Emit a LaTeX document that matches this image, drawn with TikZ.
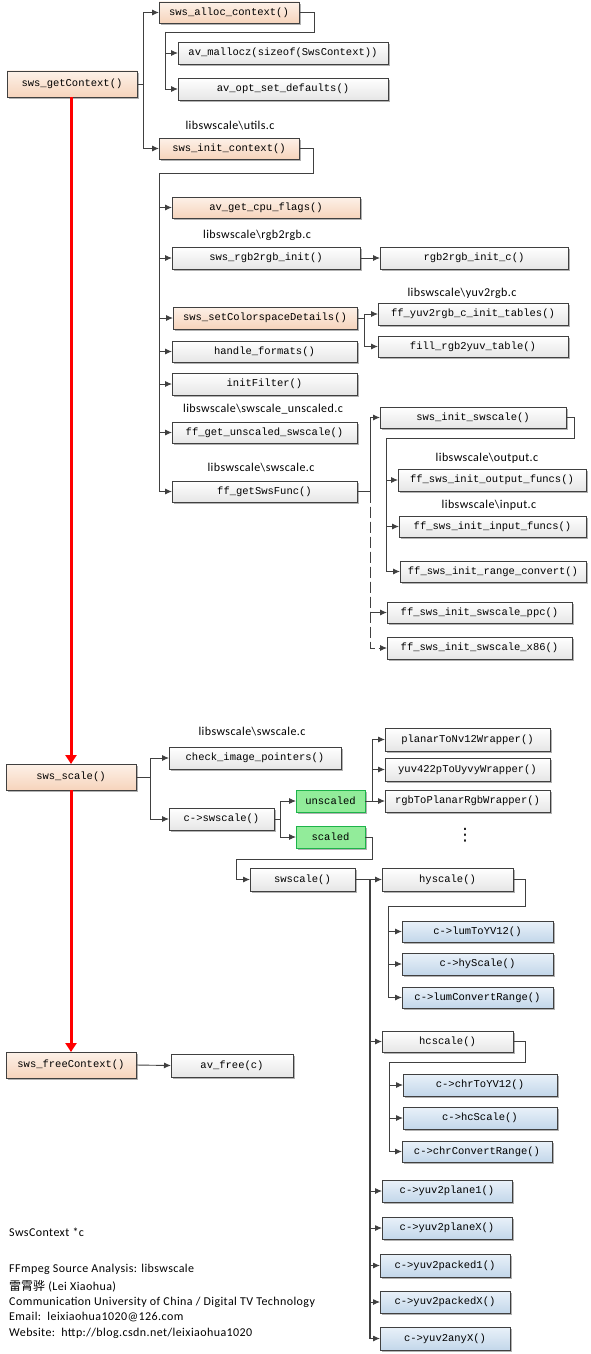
\documentclass[tikz,border=0pt]{standalone}
\usepackage{fontspec}
\setmainfont{Carlito}
\setmonofont{Liberation Mono}
\newfontfamily\cjk{Noto Sans CJK SC}
\newfontfamily\symfont{DejaVu Sans}
\newfontfamily\lblfont[LetterSpace=3.5]{Carlito}
\usetikzlibrary{arrows.meta,shadows,calc}
\definecolor{peachT}{HTML}{FDF1E8}
\definecolor{peachB}{HTML}{F6D4BC}
\definecolor{greyT}{HTML}{FFFFFF}
\definecolor{greyB}{HTML}{E6E6E6}
\definecolor{blueT}{HTML}{E9F1F9}
\definecolor{blueB}{HTML}{C3D7EA}
\definecolor{greenF}{HTML}{92EC9A}
\definecolor{greenD}{HTML}{1DB34A}
\definecolor{lineC}{HTML}{404040}
\tikzset{
 fbox/.style={draw=lineC, line width=0.9pt, inner sep=0pt, outer sep=0pt,
   font=\ttfamily\fontsize{10.5}{12}\selectfont,
   general shadow={fill=black!30, shadow xshift=2pt, shadow yshift=-2pt}},
 peach/.style={fbox, top color=peachT, bottom color=peachB},
 plain/.style={fbox, top color=greyT, bottom color=greyB},
 bluebox/.style={fbox, top color=blueT, bottom color=blueB},
 greenbox/.style={fbox, draw=greenD, fill=greenF},
 cn/.style={draw=lineC, line width=0.9pt},
 arr/.style={cn, -{Latex[length=7pt,width=6pt]}},
 redarr/.style={draw=red, line width=3pt, -{Triangle[length=9pt,width=11pt]}},
 lbl/.style={font=\lblfont\fontsize{12}{14}\selectfont, inner sep=0pt},
 foot/.style={font=\lblfont\fontsize{12}{14}\selectfont, inner sep=0pt, anchor=west},
}
\newcommand\fbx[7]{\node[#1, minimum width={(#5-#3)*1pt}, minimum height={(#6-#4)*1pt}] (#2) at ({(#3+#5)/2},{(#4+#6)/2}) {#7};}
\begin{document}
\begin{tikzpicture}[x=1pt,y=-1pt]
\fill[white] (0,0) rectangle (590,1354);
\useasboundingbox (0,0) rectangle (590,1354);
% ---- sws_getContext part
\fbx{peach}{getctx}{7}{71}{137}{97}{sws\_getContext()}
\fbx{peach}{alloc}{159}{2}{299}{23}{sws\_alloc\_context()}
\fbx{plain}{malloc}{178}{42}{388}{64}{av\_mallocz(sizeof(SwsContext))}
\fbx{plain}{optdef}{178}{78}{388}{100}{av\_opt\_set\_defaults()}
\fbx{peach}{initctx}{159}{138}{299}{159}{sws\_init\_context()}
\fbx{peach}{cpuflags}{172}{197}{360}{218}{av\_get\_cpu\_flags()}
\fbx{plain}{rgbinit}{172}{247}{360}{269}{sws\_rgb2rgb\_init()}
\fbx{plain}{rgbinitc}{380}{247}{568}{269}{rgb2rgb\_init\_c()}
\fbx{peach}{setcs}{173}{307}{357}{329}{sws\_setColorspaceDetails()}
\fbx{plain}{yuvtab}{378}{303}{568}{325}{ff\_yuv2rgb\_c\_init\_tables()}
\fbx{plain}{fillrgb}{378}{336}{568}{357}{fill\_rgb2yuv\_table()}
\fbx{plain}{handle}{172}{341}{357}{362}{handle\_formats()}
\fbx{plain}{initfilter}{172}{373}{357}{395}{initFilter()}
\fbx{plain}{unscaledfn}{172}{422}{357}{443}{ff\_get\_unscaled\_swscale()}
\fbx{plain}{getsws}{172}{481}{357}{502}{ff\_getSwsFunc()}
\fbx{plain}{initsws}{380}{407}{566}{428}{sws\_init\_swscale()}
\fbx{plain}{outf}{398}{469}{586}{491}{ff\_sws\_init\_output\_funcs()}
\fbx{plain}{inf}{399}{516}{586}{537}{ff\_sws\_init\_input\_funcs()}
\fbx{plain}{rangec}{400}{561}{586}{582}{ff\_sws\_init\_range\_convert()}
\fbx{plain}{ppc}{387}{602}{572}{623}{ff\_sws\_init\_swscale\_ppc()}
\fbx{plain}{x86}{387}{637}{572}{659}{ff\_sws\_init\_swscale\_x86()}
% ---- sws_scale part
\fbx{peach}{swsscale}{6}{764}{136}{790}{sws\_scale()}
\fbx{plain}{check}{169}{747}{341}{769}{check\_image\_pointers()}
\fbx{plain}{cswscale}{169}{808}{274}{830}{c->swscale()}
\fbx{greenbox}{unscaled}{296}{790}{365}{812}{unscaled}
\fbx{greenbox}{scaled}{296}{826}{365}{848}{scaled}
\fbx{plain}{planar}{385}{728}{550}{751}{planarToNv12Wrapper()}
\fbx{plain}{yuvuyvy}{385}{758}{550}{781}{yuv422pToUyvyWrapper()}
\fbx{plain}{rgbplanar}{385}{790}{550}{812}{rgbToPlanarRgbWrapper()}
\fbx{plain}{swscale}{250}{868}{355}{891}{swscale()}
\fbx{plain}{hyscale}{382}{868}{513}{891}{hyscale()}
\fbx{bluebox}{lumyv}{402}{921}{553}{942}{c->lumToYV12()}
\fbx{bluebox}{hyscl}{402}{953}{553}{975}{c->hyScale()}
\fbx{bluebox}{lumconv}{402}{987}{553}{1008}{c->lumConvertRange()}
\fbx{plain}{hcscale}{382}{1031}{513}{1052}{hcscale()}
\fbx{bluebox}{chryv}{403}{1074}{557}{1096}{c->chrToYV12()}
\fbx{bluebox}{hcscl}{403}{1107}{557}{1129}{c->hcScale()}
\fbx{bluebox}{chrconv}{402}{1141}{552}{1162}{c->chrConvertRange()}
\fbx{bluebox}{plane1}{382}{1180}{512}{1202}{c->yuv2plane1()}
\fbx{bluebox}{planeX}{382}{1217}{512}{1239}{c->yuv2planeX()}
\fbx{bluebox}{packed1}{380}{1254}{510}{1277}{c->yuv2packed1()}
\fbx{bluebox}{packedX}{380}{1291}{510}{1313}{c->yuv2packedX()}
\fbx{bluebox}{anyX}{380}{1327}{510}{1350}{c->yuv2anyX()}
% ---- sws_freeContext part
\fbx{peach}{freectx}{6}{1052}{136}{1078}{sws\_freeContext()}
\fbx{plain}{avfree}{171}{1054}{293}{1077}{av\_free(c)}
% ---- labels
\node[lbl] (lutils) at (230,126) {libswscale\textbackslash utils.c};
\node[lbl] (lrgb) at (257,235) {libswscale\textbackslash rgb2rgb.c};
\node[lbl] (lyuv) at (462,293) {libswscale\textbackslash yuv2rgb.c};
\node[lbl] (lunsc) at (263,409) {libswscale\textbackslash swscale\_unscaled.c};
\node[lbl] (lsws1) at (261,468) {libswscale\textbackslash swscale.c};
\node[lbl] (lout) at (487,458) {libswscale\textbackslash output.c};
\node[lbl] (lin) at (489,505) {libswscale\textbackslash input.c};
\node[lbl] (lsws2) at (252,732) {libswscale\textbackslash swscale.c};
\node[inner sep=0pt, font=\symfont\fontsize{17}{17}\selectfont] (dots) at (465,835) {⋮};
\node[foot] (f0) at (9,1232) {SwsContext *c};
\node[foot] (f1) at (9,1269) {FFmpeg Source Analysis: libswscale};
\node[foot] (f2) at (9,1286) {{\cjk 雷霄骅} (Lei Xiaohua)};
\node[foot] (f3) at (9,1302) {Communication University of China / Digital TV Technology};
\node[foot] (f4) at (9,1317) {Email:\ \ leixiaohua1020@126.com};
\node[foot] (f5) at (9,1333) {Website:\ \ http://blog.csdn.net/leixiaohua1020};
% ---- connectors
\draw[cn] (getctx.east) -- ++(6,0) coordinate (k0);
\draw[arr] (k0) |- (alloc.west);
\draw[arr] (k0) |- (initctx.west);
\coordinate (k1) at (165,32);
\draw[cn] (alloc.east) -- ++(15,0) |- (k1);
\draw[arr] (k1) |- (malloc.west);
\draw[arr] (k1) |- (optdef.west);
\coordinate (k2) at (159,173);
\draw[cn] (initctx.east) -- ++(14,0) |- (k2);
\draw[arr] (k2) |- (cpuflags.west);
\draw[arr] (k2) |- (rgbinit.west);
\draw[arr] (k2) |- (setcs.west);
\draw[arr] (k2) |- (handle.west);
\draw[arr] (k2) |- (initfilter.west);
\draw[arr] (k2) |- (unscaledfn.west);
\draw[arr] (k2) |- (getsws.west);
\draw[arr] (rgbinit.east) -- (rgbinitc.west);
\draw[cn] (setcs.east) -- ++(7,0) coordinate (k3);
\draw[arr] (k3) |- (yuvtab.west);
\draw[arr] (k3) |- (fillrgb.west);
\draw[cn] (getsws.east) -- ++(13,0) coordinate (k4);
\draw[arr] (k4) |- (initsws.west);
\draw[arr, dash pattern=on 11pt off 4pt] (k4) |- (ppc.west);
\draw[arr, dash pattern=on 11pt off 4pt] (k4) |- (x86.west);
\coordinate (k5) at (386,438);
\draw[cn] (initsws.east) -- ++(8,0) |- (k5);
\draw[arr] (k5) |- (outf.west);
\draw[arr] (k5) |- (inf.west);
\draw[arr] (k5) |- (rangec.west);
% red flow
\draw[redarr] (swsscale.north |- getctx.south) -- (swsscale.north);
\draw[redarr] (swsscale.south) -- (freectx.north);
% sws_scale
\draw[cn] (swsscale.east) -- ++(14,0) coordinate (k6);
\draw[arr] (k6) |- (check.west);
\draw[arr] (k6) |- (cswscale.west);
\draw[cn] (cswscale.east) -- ++(6,0) coordinate (k7);
\draw[arr] (k7) |- (unscaled.west);
\draw[arr] (k7) |- (scaled.west);
\draw[cn] (unscaled.east) -- ++(7,0) coordinate (k8);
\draw[arr] (k8) |- (planar.west);
\draw[arr] (k8) |- (yuvuyvy.west);
\draw[arr] (k8) |- (rgbplanar.west);
\coordinate (k9) at (236,859);
\draw[cn] (scaled.east) -- ++(7,0) |- (k9);
\draw[arr] (k9) |- (swscale.west);
\draw[cn] (swscale.east) -- ++(15,0) coordinate (k10);
\draw[cn, line width=1.2pt] (k10) -- (k10 |- anyX.west);
\draw[arr] (k10) |- (hyscale.west);
\draw[arr] (k10) |- (hcscale.west);
\draw[arr] (k10) |- (plane1.west);
\draw[arr] (k10) |- (planeX.west);
\draw[arr] (k10) |- (packed1.west);
\draw[arr] (k10) |- (packedX.west);
\draw[arr] (k10) |- (anyX.west);
\coordinate (k11) at (388,906);
\draw[cn] (hyscale.east) -- ++(12,0) |- (k11);
\draw[arr] (k11) |- (lumyv.west);
\draw[arr] (k11) |- (hyscl.west);
\draw[arr] (k11) |- (lumconv.west);
\coordinate (k12) at (389,1062);
\draw[cn] (hcscale.east) -- ++(12,0) |- (k12);
\draw[arr] (k12) |- (chryv.west);
\draw[arr] (k12) |- (hcscl.west);
\draw[arr] (k12) |- (chrconv.west);
\draw[arr] (freectx.east) -- (avfree.west);
\end{tikzpicture}
\end{document}
